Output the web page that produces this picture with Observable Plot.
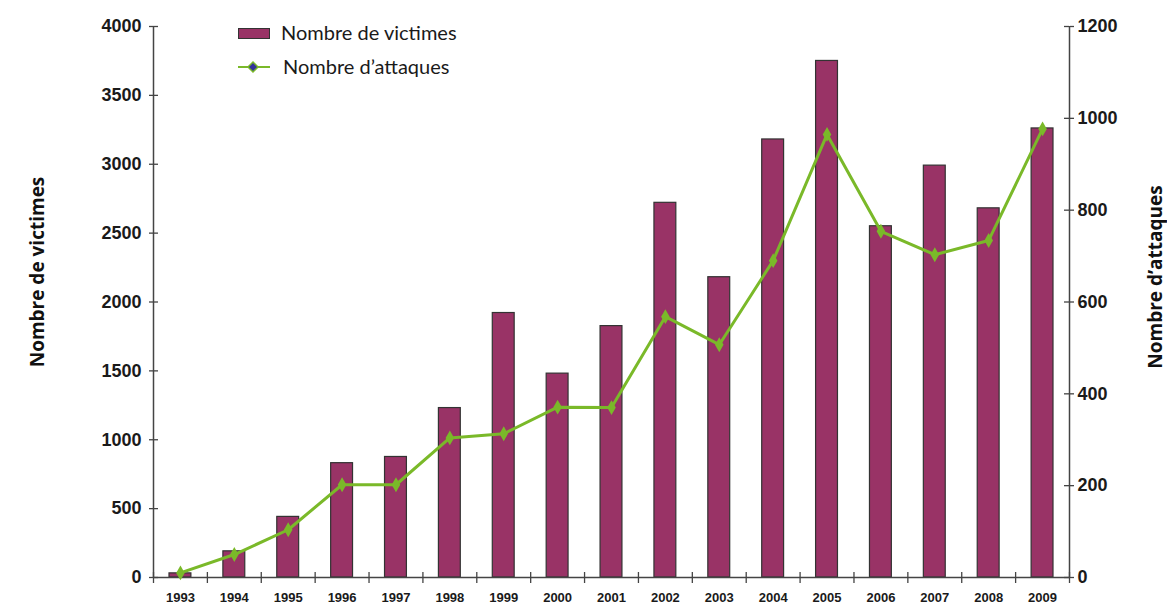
<!DOCTYPE html>
<html><head><meta charset="utf-8">
<script src="https://cdn.jsdelivr.net/npm/d3@7"></script>
<script src="https://cdn.jsdelivr.net/npm/@observablehq/plot@0.6"></script>
<style>
body{margin:0;background:#fff;}
#wrap{position:relative;width:1167px;height:607px;overflow:hidden;}
.leg{position:absolute;font-family:Lato,"Open Sans",sans-serif;font-size:20px;color:#1a1a1a;white-space:nowrap;line-height:22px;}
</style></head><body>
<div id="wrap">
  <div class="leg" style="left:238px;top:28px;width:30px;height:9px;background:#993366;border:1px solid #333;"></div>
  <div class="leg" style="left:281px;top:21px;" id="leg1"></div>
  <svg class="leg" style="left:236px;top:60px;" width="36" height="14">
    <line x1="2" y1="7" x2="34" y2="7" stroke="#7ab929" stroke-width="2"/>
    <path d="M17 2 L22 7 L17 12 L12 7 Z" fill="#333399" stroke="#7ab929" stroke-width="1.5"/>
  </svg>
  <div class="leg" style="left:283px;top:55px;" id="leg2"></div>
</div>
<script>
const years = [1993,1994,1995,1996,1997,1998,1999,2000,2001,2002,2003,2004,2005,2006,2007,2008,2009];
const victimes = [30,190,440,830,875,1230,1920,1480,1825,2720,2180,3180,3750,2550,2990,2680,3260];
const attaques = [10,50,104,202,202,304,313,371,370,568,507,690,965,754,703,734,977];
const leftTicks = [0,500,1000,1500,2000,2500,3000,3500,4000];
const rightTicks = [0,200,400,600,800,1000,1200];
const seriesNames = ["Nombre de victimes","Nombre d\u2019attaques"];

const ratio = 4000/1200;
const data = years.map((year,i)=>({year, victimes: victimes[i], attaques: attaques[i]}));
const boundaries = [...years, years[years.length-1]+1];
const firstX = years[0], lastX = years[years.length-1]+1;

document.getElementById("leg1").textContent = seriesNames[0];
document.getElementById("leg2").textContent = seriesNames[1];

const axisColor = "#444";
const green = "#7ab929";
const titleFont = "'Open Sans', sans-serif";

const chart = Plot.plot({
  width: 1167, height: 607,
  marginLeft: 153, marginRight: 98, marginTop: 26, marginBottom: 30,
  x: {type: "linear", domain: [firstX, lastX]},
  y: {domain: [0, 4000]},
  style: {background: "#fff", fontFamily: "Liberation Sans, Arial, sans-serif", color: "#1a1a1a"},
  marks: [
    Plot.rectY(data, {x: "year", interval: 1, y: "victimes", fill: "#993366", stroke: "#333", strokeWidth: 1.2, insetLeft: 16, insetRight: 16}),
    Plot.ruleY([0], {stroke: axisColor, strokeWidth: 1.5}),
    Plot.ruleX([firstX, lastX], {y1: 0, y2: 4000, stroke: axisColor, strokeWidth: 1.5}),
    Plot.ruleX(boundaries, {y1: 0, y2: 0, insetTop: -5, insetBottom: -6, stroke: axisColor, strokeWidth: 1.3}),
    Plot.ruleY(leftTicks, {x1: firstX, x2: firstX, insetRight: -5, stroke: axisColor, strokeWidth: 1.3}),
    Plot.ruleY(rightTicks.map(v => v*ratio), {x1: lastX, x2: lastX, insetLeft: -5, stroke: axisColor, strokeWidth: 1.3}),
    Plot.axisY(leftTicks, {anchor: "left", tickSize: 4, tickPadding: 8, fontSize: 18, fontWeight: "bold", label: null, tickFormat: d => String(d), stroke: axisColor, strokeWidth: 1.3}),
    Plot.axisY(rightTicks.map(v => v*ratio), {anchor: "right", tickSize: 4, tickPadding: 4, fontSize: 18, fontWeight: "bold", label: null, tickFormat: d => String(Math.round(d/ratio)), stroke: axisColor, strokeWidth: 1.3}),
    Plot.axisX(years.map(y => y + 0.5), {anchor: "bottom", tickSize: 0, tickPadding: 15, fontSize: 13, fontWeight: "bold", label: null, tickFormat: d => String(Math.floor(d))}),
    Plot.line(data, {x: d => d.year + 0.5, y: d => d.attaques*ratio, stroke: green, strokeWidth: 3}),
    Plot.dot(data, {x: d => d.year + 0.5, y: d => d.attaques*ratio, symbol: "diamond", r: 4.5, fill: green}),
    Plot.text([seriesNames[0]], {text: d => d, frameAnchor: "left", textAnchor: "middle", rotate: -90, dx: -116, dy: -30, fontSize: 19, fontWeight: "bold", fontFamily: titleFont, fill: "#111"}),
    Plot.text([seriesNames[1]], {text: d => d, frameAnchor: "right", textAnchor: "middle", rotate: -90, dx: 86, dy: -25, fontSize: 19, fontWeight: "bold", fontFamily: titleFont, fill: "#111"})
  ]
});
document.getElementById("wrap").prepend(chart);
</script>
</body></html>
